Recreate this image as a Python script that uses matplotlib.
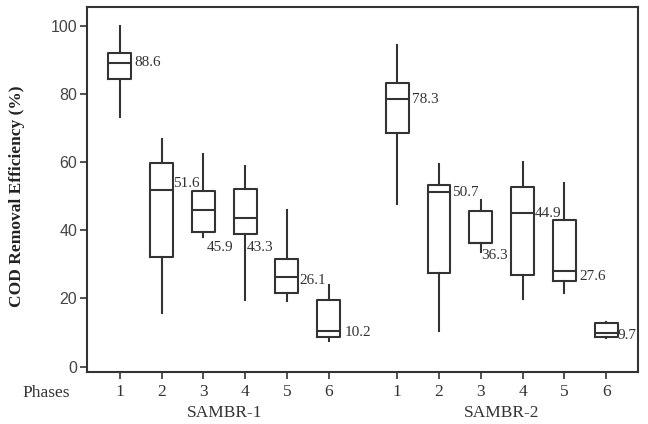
import numpy as np
import matplotlib.pyplot as plt

# box statistics (COD removal efficiency, %)
phases = [1, 2, 3, 4, 5, 6]
reactors = ["SAMBR-1", "SAMBR-2"]

s1_whislo = [73.1, 15.8, 38.1, 19.5, 19.2, 7.6]
s1_q1     = [84.2, 32.2, 39.4, 38.8, 21.7, 8.8]
s1_med    = [89.1, 51.8, 45.9, 43.7, 26.2, 10.3]
s1_q3     = [92.1, 59.6, 51.5, 52.1, 31.5, 19.5]
s1_whishi = [99.9, 66.6, 62.2, 58.8, 45.9, 23.9]
s1_labels = ["88.6", "51.6", "45.9", "43.3", "26.1", "10.2"]

s2_whislo = [47.6, 10.5, 33.7, 19.7, 21.7, 8.3]
s2_q1     = [68.4, 27.4, 36.3, 26.9, 25.1, 8.8]
s2_med    = [78.4, 51.3, 36.3, 44.9, 28.0, 9.8]
s2_q3     = [83.2, 53.2, 45.6, 52.7, 43.0, 12.7]
s2_whishi = [94.3, 59.3, 48.8, 60.1, 53.7, 13.2]
s2_labels = ["78.3", "50.7", "36.3", "44.9", "27.6", "9.7"]

# label offsets (pixels) from the box's right edge at the median
s1_off = [(3, 0), (0, 6), (-8, -37), (-10, -30), (1, -3), (4, -1)]
s2_off = [(3, 0), (2, -1), (-11, -13), (1, 0), (4, -5), (0, -2)]

serif = "Liberation Serif"
edge = "#333333"
width = 0.55

fig = plt.figure(figsize=(6.48, 4.24), dpi=100)
ax = fig.add_axes([0.134, 0.123, 0.851, 0.860])

pos1 = np.array(phases, dtype=float)
pos2 = pos1 + 6.64

def make_stats(lo, q1, med, q3, hi):
    return [dict(whislo=a, q1=b, med=c, q3=d, whishi=e, fliers=[])
            for a, b, c, d, e in zip(lo, q1, med, q3, hi)]

stats1 = make_stats(s1_whislo, s1_q1, s1_med, s1_q3, s1_whishi)
stats2 = make_stats(s2_whislo, s2_q1, s2_med, s2_q3, s2_whishi)

line = dict(color=edge, linewidth=1.5)
for stats, pos in [(stats1, pos1), (stats2, pos2)]:
    ax.bxp(stats, positions=pos, widths=width, showcaps=False, showfliers=False,
           boxprops=line, whiskerprops=line, medianprops=line,
           manage_ticks=False)

for pos, meds, labels, offs in [(pos1, s1_med, s1_labels, s1_off),
                                (pos2, s2_med, s2_labels, s2_off)]:
    for x, m, lab, (dx, dy) in zip(pos, meds, labels, offs):
        ax.annotate(lab, (x + width / 2, m), xytext=(dx, dy),
                    textcoords="offset pixels", ha="left", va="center",
                    fontsize=11, family=serif, color="#333333")

ax.set_xlim(0.21, 13.41)
ax.set_ylim(-1.55, 105.4)
ax.set_yticks([0, 20, 40, 60, 80, 100])
ax.tick_params(axis="y", labelsize=11.5, labelcolor="#444444", direction="out",
               length=5, width=1.2, color=edge, pad=2)
for lab in ax.get_yticklabels():
    lab.set_family("Liberation Sans")

ax.set_xticks(np.concatenate([pos1, pos2]))
ax.set_xticklabels([str(p) for p in phases] * 2, family=serif, fontsize=12.5,
                   color="#333333")
ax.tick_params(axis="x", direction="out", length=5, width=1.2, color=edge, pad=4)

for sp in ax.spines.values():
    sp.set_color(edge)
    sp.set_linewidth(1.5)

ax.set_ylabel("COD Removal Efficiency (%)", family=serif, fontweight="bold",
              fontsize=12.5, color="#222222")
ax.yaxis.set_label_coords(-0.112, 0.481)

fig.text(46 / 648, 1 - 393 / 424, "Phases", ha="center", va="center",
         family=serif, fontsize=12.5, color="#333333")
for name, pos in zip(reactors, [pos1, pos2]):
    xc = ax.transData.transform((pos.mean(), 0))[0] / fig.bbox.width
    fig.text(xc, 1 - 413 / 424, name, ha="center", va="center",
             family=serif, fontsize=12.5, color="#333333")

fig.savefig("out.png", dpi=100)
